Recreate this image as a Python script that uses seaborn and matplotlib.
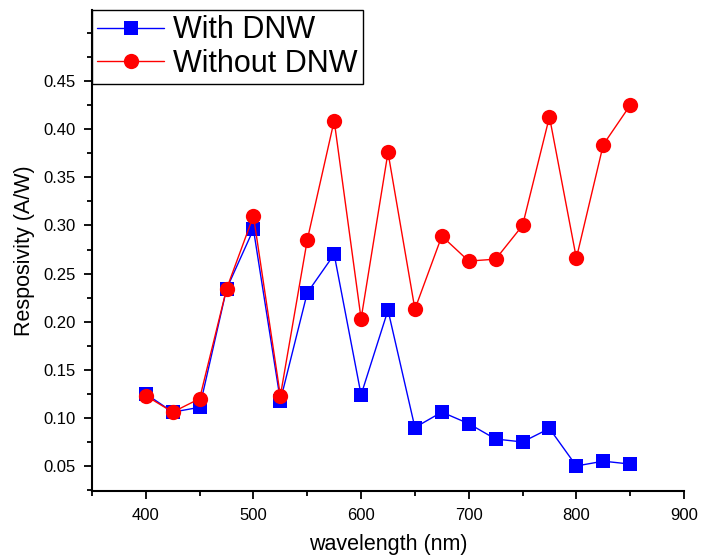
import matplotlib
matplotlib.use("Agg")
import matplotlib.pyplot as plt
import seaborn as sns
import pandas as pd
from matplotlib.ticker import MultipleLocator, FixedLocator

wavelength = [400, 425, 450, 475, 500, 525, 550, 575, 600, 625, 650, 675, 700, 725, 750, 775, 800, 825, 850]
with_dnw = [0.125, 0.106, 0.111, 0.234, 0.296, 0.118, 0.230, 0.270, 0.124, 0.212, 0.090, 0.106, 0.094, 0.078, 0.075, 0.089, 0.050, 0.055, 0.052]
without_dnw = [0.123, 0.106, 0.120, 0.234, 0.310, 0.123, 0.285, 0.409, 0.203, 0.376, 0.213, 0.289, 0.263, 0.265, 0.300, 0.413, 0.266, 0.384, 0.425]
x_ticks = [400, 500, 600, 700, 800, 900]
y_ticks = [0.05, 0.10, 0.15, 0.20, 0.25, 0.30, 0.35, 0.40, 0.45]

sns.set_style("ticks")
plt.rcParams['font.family'] = ['Liberation Sans', 'DejaVu Sans']
plt.rcParams['text.color'] = 'black'
plt.rcParams['axes.labelcolor'] = 'black'

fig = plt.figure(figsize=(7.01, 5.59), dpi=100)
W, H = 701, 559
ax = fig.add_axes([92 / W, (H - 491) / H, (684 - 92) / W, (491 - 10) / H])

df = pd.DataFrame({"wavelength": wavelength, "with": with_dnw, "without": without_dnw})
sns.lineplot(data=df, x="wavelength", y="with", ax=ax, color="#0000ff", marker="s",
             markersize=9.5, markeredgewidth=0, linewidth=1, label="With DNW")
sns.lineplot(data=df, x="wavelength", y="without", ax=ax, color="#ff0000", marker="o",
             markersize=11, markeredgewidth=0, linewidth=1, label="Without DNW")

ax.set_xlim(350, 900)
ax.set_ylim(0.024, 0.524)
ax.xaxis.set_major_locator(FixedLocator(x_ticks))
ax.xaxis.set_minor_locator(MultipleLocator(50))
ax.yaxis.set_major_locator(FixedLocator(y_ticks))
ax.yaxis.set_minor_locator(MultipleLocator(0.025))
ax.set_xticklabels([str(v) for v in x_ticks])
ax.set_yticklabels([f"{v:.2f}" for v in y_ticks])

ax.tick_params(which="major", direction="out", length=6, width=1.3, labelsize=12,
               colors="black", pad=6)
ax.tick_params(which="minor", direction="out", length=3.5, width=1.3, colors="black")
for s in ["left", "bottom"]:
    ax.spines[s].set_linewidth(1.5)
    ax.spines[s].set_color("black")
for s in ["top", "right"]:
    ax.spines[s].set_visible(False)

ax.set_xlabel("wavelength (nm)", fontsize=15.5, labelpad=8)
ax.set_ylabel("Resposivity (A/W)", fontsize=15.5, labelpad=5.5)

leg = ax.legend(loc="upper left", bbox_to_anchor=(0, 1), borderaxespad=0, fontsize=22,
                frameon=True, fancybox=False, edgecolor="black", framealpha=1,
                handlelength=2.2, borderpad=0.17, labelspacing=0.12, handletextpad=0.28)
leg.get_frame().set_linewidth(1.0)
for t in leg.get_texts():
    t.set_color("black")

fig.savefig("out.png", dpi=100)
